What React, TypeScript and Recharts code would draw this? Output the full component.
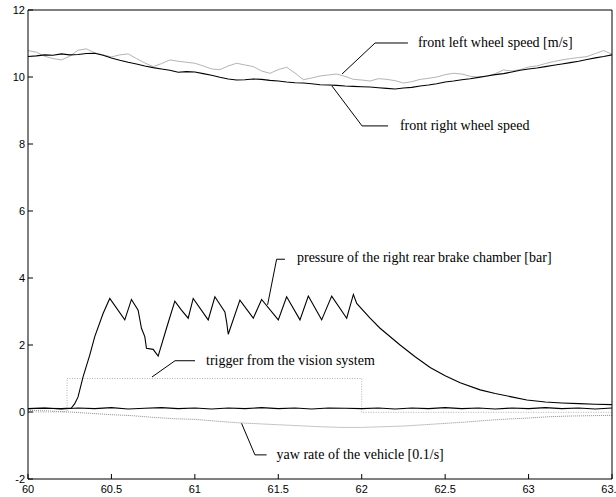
import React from 'react';
import { LineChart, Line, XAxis, YAxis, ReferenceLine, ReferenceDot } from 'recharts';

const xTicks = [60, 60.5, 61, 61.5, 62, 62.5, 63, 63.5];
const yTicks = [-2, 0, 2, 4, 6, 8, 10, 12];

// [time s, value]
const frontLeftSpeed: [number, number][] = [
  [60, 10.79], [60.05, 10.74], [60.1, 10.62], [60.15, 10.55], [60.2, 10.51], [60.25, 10.62],
  [60.3, 10.8], [60.35, 10.84], [60.4, 10.72], [60.45, 10.66], [60.5, 10.6], [60.55, 10.66],
  [60.6, 10.69], [60.65, 10.55], [60.7, 10.42], [60.75, 10.31], [60.8, 10.4], [60.85, 10.51],
  [60.9, 10.47], [60.95, 10.44], [61, 10.41], [61.05, 10.33], [61.1, 10.24], [61.15, 10.22],
  [61.2, 10.33], [61.25, 10.41], [61.3, 10.36], [61.35, 10.31], [61.4, 10.18], [61.45, 10.11],
  [61.5, 10.22], [61.55, 10.29], [61.6, 10.12], [61.65, 9.92], [61.7, 9.97], [61.75, 10.03],
  [61.8, 10.06], [61.85, 10.09], [61.9, 10.02], [61.95, 9.93], [62, 9.91], [62.05, 9.88],
  [62.1, 9.95], [62.15, 9.93], [62.2, 9.89], [62.25, 9.82], [62.3, 9.86], [62.35, 9.93],
  [62.4, 9.96], [62.45, 10.0], [62.5, 10.07], [62.55, 10.11], [62.6, 10.09], [62.65, 10.02],
  [62.7, 10.0], [62.75, 10.02], [62.8, 10.1], [62.85, 10.21], [62.9, 10.18], [62.95, 10.22],
  [63, 10.3], [63.05, 10.33], [63.1, 10.4], [63.15, 10.46], [63.2, 10.51], [63.25, 10.55],
  [63.3, 10.58], [63.35, 10.61], [63.4, 10.7], [63.45, 10.79], [63.5, 10.68],
];

const frontRightSpeed: [number, number][] = [
  [60, 10.61], [60.05, 10.63], [60.1, 10.66], [60.15, 10.65], [60.2, 10.69], [60.25, 10.66],
  [60.3, 10.67], [60.35, 10.7], [60.4, 10.71], [60.45, 10.65], [60.5, 10.57], [60.55, 10.5],
  [60.6, 10.44], [60.65, 10.39], [60.7, 10.33], [60.75, 10.28], [60.8, 10.24], [60.85, 10.2],
  [60.9, 10.14], [60.95, 10.16], [61, 10.15], [61.05, 10.1], [61.1, 10.05], [61.15, 9.99],
  [61.2, 9.94], [61.25, 9.91], [61.3, 9.92], [61.35, 9.94], [61.4, 9.93], [61.45, 9.9],
  [61.5, 9.88], [61.55, 9.85], [61.6, 9.83], [61.65, 9.82], [61.7, 9.8], [61.75, 9.77],
  [61.8, 9.76], [61.85, 9.75], [61.9, 9.73], [61.95, 9.72], [62, 9.71], [62.05, 9.7],
  [62.1, 9.68], [62.15, 9.66], [62.2, 9.64], [62.25, 9.67], [62.3, 9.69], [62.35, 9.73],
  [62.4, 9.76], [62.45, 9.8], [62.5, 9.85], [62.55, 9.88], [62.6, 9.92], [62.65, 9.95],
  [62.7, 9.99], [62.75, 10.03], [62.8, 10.07], [62.85, 10.1], [62.9, 10.15], [62.95, 10.2],
  [63, 10.24], [63.05, 10.27], [63.1, 10.31], [63.15, 10.35], [63.2, 10.39], [63.25, 10.43],
  [63.3, 10.47], [63.35, 10.52], [63.4, 10.57], [63.45, 10.61], [63.5, 10.66],
];

const rearRightPressure: [number, number][] = [
  [60, 0.1], [60.1, 0.11], [60.2, 0.1], [60.26, 0.12], [60.28, 0.25], [60.3, 0.45],
  [60.33, 1.05], [60.37, 1.7], [60.4, 2.25], [60.45, 2.94], [60.49, 3.39], [60.58, 2.75],
  [60.62, 3.36], [60.66, 3.04], [60.68, 2.5], [60.7, 2.25], [60.71, 1.9], [60.75, 1.87],
  [60.78, 1.67], [60.83, 2.5], [60.88, 3.31], [60.92, 3.04], [60.96, 2.8], [60.99, 3.39],
  [61.08, 2.75], [61.12, 3.44], [61.18, 2.99], [61.19, 2.7], [61.2, 2.32], [61.27, 3.34],
  [61.35, 2.8], [61.4, 3.36], [61.5, 2.75], [61.55, 3.44], [61.63, 2.75], [61.68, 3.46],
  [61.76, 2.75], [61.82, 3.46], [61.91, 2.8], [61.95, 3.51], [61.97, 3.24], [62.05, 2.8],
  [62.11, 2.5], [62.23, 2.0], [62.32, 1.65], [62.41, 1.33], [62.5, 1.08], [62.59, 0.87],
  [62.71, 0.66], [62.8, 0.55], [62.89, 0.46], [62.99, 0.36], [63.1, 0.3], [63.2, 0.27],
  [63.3, 0.25], [63.4, 0.23], [63.5, 0.22],
];

const baseSignal: [number, number][] = [
  [60, 0.1], [60.1, 0.12], [60.2, 0.09], [60.3, 0.12], [60.4, 0.1], [60.5, 0.13],
  [60.6, 0.09], [60.7, 0.11], [60.8, 0.13], [60.9, 0.1], [61, 0.12], [61.1, 0.09],
  [61.2, 0.12], [61.3, 0.1], [61.4, 0.13], [61.5, 0.1], [61.6, 0.12], [61.7, 0.09],
  [61.8, 0.12], [61.9, 0.11], [62, 0.1], [62.1, 0.12], [62.2, 0.09], [62.3, 0.12],
  [62.4, 0.1], [62.5, 0.13], [62.6, 0.1], [62.7, 0.12], [62.8, 0.09], [62.9, 0.12],
  [63, 0.1], [63.1, 0.13], [63.2, 0.1], [63.3, 0.12], [63.4, 0.09], [63.5, 0.12],
];

const visionTrigger: [number, number][] = [
  [60, 0.0], [60.234, 0.0], [60.234, 1.0], [62.0, 1.0], [62.0, -0.01], [63.5, -0.01],
];

const yawRate: [number, number][] = [
  [60, 0.05], [60.125, 0.03], [60.25, 0.0], [60.375, -0.04], [60.5, -0.08], [60.625, -0.11],
  [60.75, -0.16], [60.875, -0.2], [61, -0.22], [61.125, -0.27], [61.25, -0.32], [61.375, -0.35],
  [61.5, -0.38], [61.625, -0.41], [61.75, -0.44], [61.875, -0.46], [62, -0.46], [62.125, -0.44],
  [62.25, -0.42], [62.375, -0.38], [62.5, -0.34], [62.625, -0.3], [62.75, -0.25], [62.875, -0.21],
  [63, -0.18], [63.125, -0.14], [63.25, -0.12], [63.375, -0.11], [63.5, -0.1],
];

// annotation labels with leader lines (data coordinates)
const notes = [
  { text: 'front left wheel speed [m/s]', pts: [[61.882, 10.09], [62.08, 11.015], [62.277, 11.015]], tx: 62.337, ty: 11.015 },
  { text: 'front right wheel speed', pts: [[61.822, 9.73], [62.002, 8.54], [62.158, 8.54]], tx: 62.229, ty: 8.54 },
  { text: 'pressure of the right rear brake chamber [bar]', pts: [[61.436, 3.2], [61.49, 4.56], [61.54, 4.56]], tx: 61.612, ty: 4.6 },
  { text: 'trigger from the vision system', pts: [[60.743, 1.045], [60.881, 1.53], [61.001, 1.53]], tx: 61.067, ty: 1.55 },
  { text: 'yaw rate of the vehicle [0.1/s]', pts: [[61.28, -0.34], [61.36, -1.28], [61.43, -1.28]], tx: 61.49, ty: -1.28 },
];

const toRows = (arr: [number, number][]) => arr.map(([t, v]) => ({ t, v }));

const tickFont = '"Liberation Sans", Arial, sans-serif';
const noteFont = '"Liberation Serif", "Times New Roman", serif';

const BottomTick = ({ x, y, payload }: any) => (
  <g>
    <line x1={x} x2={x} y1={y} y2={y - 5} stroke="#000" />
    <text x={x} y={y + 14} textAnchor="middle" fontSize={11} fontFamily={tickFont} fill="#000">
      {payload.value}
    </text>
  </g>
);
const TopTick = ({ x, y }: any) => <line x1={x} x2={x} y1={y} y2={y + 5} stroke="#000" />;
const LeftTick = ({ x, y, payload }: any) => (
  <g>
    <line x1={x} x2={x + 5} y1={y} y2={y} stroke="#000" />
    <text x={x - 3} y={y + 4} textAnchor="end" fontSize={11} fontFamily={tickFont} fill="#000">
      {payload.value}
    </text>
  </g>
);
const RightTick = ({ x, y }: any) => <line x1={x} x2={x - 5} y1={y} y2={y} stroke="#000" />;

export default function App() {
  return (
    <div style={{ position: 'absolute', left: 0, top: 0, background: '#fff' }}>
      <LineChart width={616} height={497} margin={{ top: 9, right: 3, bottom: 0, left: 0 }}>
        <XAxis
          type="number"
          dataKey="t"
          domain={[60, 63.5]}
          ticks={xTicks}
          interval={0}
          height={18}
          tickSize={0}
          tickMargin={0}
          tick={<BottomTick />}
          axisLine={{ stroke: '#000' }}
          allowDataOverflow
        />
        <XAxis
          xAxisId="top"
          orientation="top"
          type="number"
          dataKey="t"
          domain={[60, 63.5]}
          ticks={xTicks}
          interval={0}
          height={1}
          tickSize={0}
          tickMargin={0}
          tick={<TopTick />}
          axisLine={{ stroke: '#000' }}
        />
        <YAxis
          type="number"
          domain={[-2, 12]}
          ticks={yTicks}
          interval={0}
          width={28}
          tickSize={0}
          tickMargin={0}
          tick={<LeftTick />}
          axisLine={{ stroke: '#000' }}
          allowDataOverflow
        />
        <YAxis
          yAxisId="right"
          orientation="right"
          type="number"
          domain={[-2, 12]}
          ticks={yTicks}
          interval={0}
          width={1}
          tickSize={0}
          tickMargin={0}
          tick={<RightTick />}
          axisLine={{ stroke: '#000' }}
        />

        <Line data={toRows(yawRate)} dataKey="v" stroke="#8c8c8c" strokeWidth={1} strokeDasharray="1 1" dot={false} isAnimationActive={false} />
        <Line data={toRows(visionTrigger)} dataKey="v" stroke="#b0b0b0" strokeWidth={1} strokeDasharray="1 1.5" dot={false} isAnimationActive={false} />
        <Line data={toRows(frontLeftSpeed)} dataKey="v" stroke="#b4b4b4" strokeWidth={1} dot={false} isAnimationActive={false} />
        <Line data={toRows(frontRightSpeed)} dataKey="v" stroke="#000" strokeWidth={1.1} dot={false} isAnimationActive={false} />
        <Line data={toRows(baseSignal)} dataKey="v" stroke="#000" strokeWidth={1.1} dot={false} isAnimationActive={false} />
        <Line data={toRows(rearRightPressure)} dataKey="v" stroke="#000" strokeWidth={1.1} dot={false} isAnimationActive={false} />

        {notes.map((n, i) => (
          <React.Fragment key={i}>
            <ReferenceLine segment={[{ x: n.pts[0][0], y: n.pts[0][1] }, { x: n.pts[1][0], y: n.pts[1][1] }]} stroke="#000" />
            <ReferenceLine segment={[{ x: n.pts[1][0], y: n.pts[1][1] }, { x: n.pts[2][0], y: n.pts[2][1] }]} stroke="#000" />
            <ReferenceDot
              x={n.tx}
              y={n.ty}
              r={0}
              shape={(p: any) => (
                <text x={p.cx} y={p.cy} dominantBaseline="central" fontSize={14} fontFamily={noteFont} fill="#000">
                  {n.text}
                </text>
              )}
            />
          </React.Fragment>
        ))}
      </LineChart>
    </div>
  );
}
